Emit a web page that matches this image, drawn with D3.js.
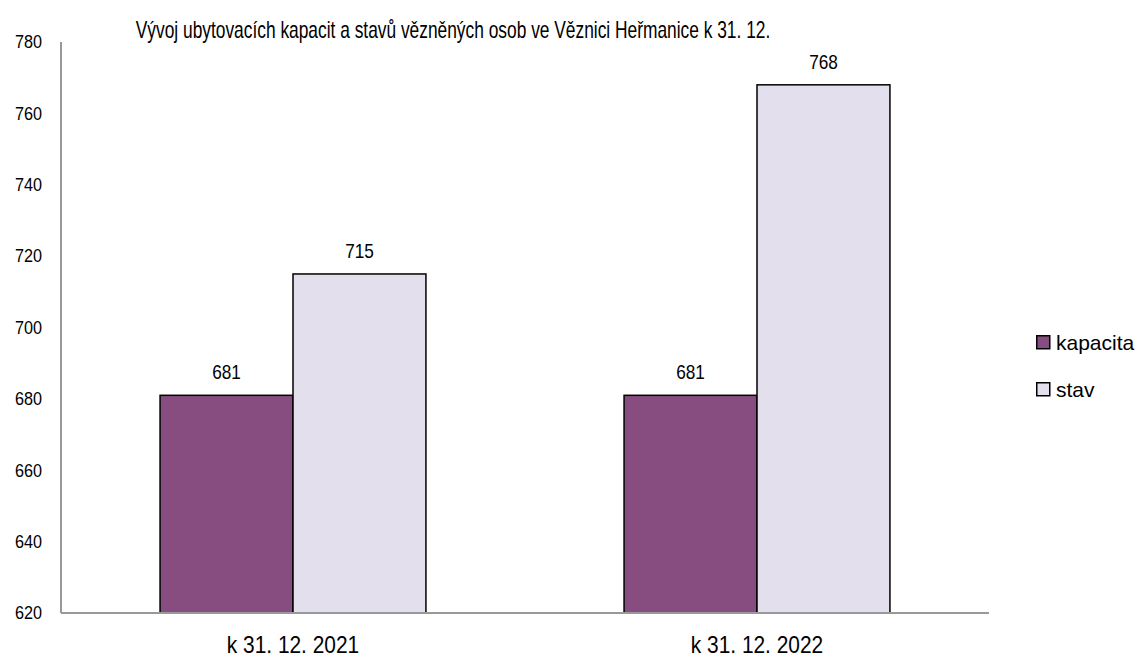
<!DOCTYPE html>
<html>
<head>
<meta charset="utf-8">
<script src="https://cdn.jsdelivr.net/npm/d3@7"></script>
<style>
  body { margin: 0; background: #fff; }
  text { font-family: "Liberation Sans", Arial, sans-serif; fill: #000; }
</style>
</head>
<body>
<div id="vis"></div>
<script>
var categories = ['k 31. 12. 2021', 'k 31. 12. 2022'];
var seriesNames = ['kapacita', 'stav'];
var kapacita = [681, 681];
var stav = [715, 768];
var yTicks = [620, 640, 660, 680, 700, 720, 740, 760, 780];

var width = 1141;
var height = 659;
var margin = { top: 42, right: 152, bottom: 46, left: 61 };

var colors = { kapacita: '#874d80', stav: '#e4dfec' };

// no narrow font here, so texts get squeezed horizontally
function place(fx, fy, sq) {
  return function (d, i) {
    var px = typeof fx === 'function' ? fx(d, i) : fx;
    var py = typeof fy === 'function' ? fy(d, i) : fy;
    return 'translate(' + px + ',' + py + ') scale(' + sq + ',1)';
  };
}

var svg = d3.select('#vis')
  .append('svg')
  .attr('width', width)
  .attr('height', height);

var x0 = d3.scaleBand()
  .domain(categories)
  .range([margin.left, width - margin.right])
  .paddingInner(0.427)
  .paddingOuter(0.2135);

var x1 = d3.scaleBand()
  .domain(seriesNames)
  .range([0, x0.bandwidth()]);

var y = d3.scaleLinear()
  .domain([620, 780])
  .range([height - margin.bottom, margin.top]);

var data = categories.map(function (c, i) {
  return { cat: c, values: [
    { name: 'kapacita', value: kapacita[i] },
    { name: 'stav', value: stav[i] }
  ] };
});

// y tick labels
svg.append('g')
  .selectAll('text')
  .data(yTicks)
  .enter().append('text')
  .attr('transform', place(42, function (d) { return y(d); }, 0.9))
  .attr('dy', '0.35em')
  .attr('text-anchor', 'end')
  .style('font-size', '18px')
  .text(function (d) { return d; });

var groups = svg.append('g')
  .selectAll('g')
  .data(data)
  .enter().append('g')
  .attr('transform', function (d) { return 'translate(' + x0(d.cat) + ',0)'; });

groups.selectAll('rect')
  .data(function (d) { return d.values; })
  .enter().append('rect')
  .attr('x', function (d) { return x1(d.name); })
  .attr('y', function (d) { return y(d.value); })
  .attr('width', x1.bandwidth())
  .attr('height', function (d) { return y(620) - y(d.value); })
  .attr('fill', function (d) { return colors[d.name]; })
  .attr('stroke', '#000')
  .attr('stroke-width', 1.5);

groups.selectAll('.lbl')
  .data(function (d) { return d.values; })
  .enter().append('text')
  .attr('class', 'lbl')
  .attr('transform', place(
    function (d) { return x1(d.name) + x1.bandwidth() / 2; },
    function (d) { return y(d.value) - 16; }, 0.86))
  .attr('text-anchor', 'middle')
  .style('font-size', '20px')
  .text(function (d) { return d.value; });

// axes lines
svg.append('line')
  .attr('x1', margin.left).attr('x2', margin.left)
  .attr('y1', y(780)).attr('y2', y(620))
  .attr('stroke', '#999').attr('stroke-width', 2);
svg.append('line')
  .attr('x1', margin.left).attr('x2', width - margin.right)
  .attr('y1', y(620)).attr('y2', y(620))
  .attr('stroke', '#999').attr('stroke-width', 2);

// x labels
svg.append('g')
  .selectAll('text')
  .data(categories)
  .enter().append('text')
  .attr('transform', place(function (d) { return x0(d) + x0.bandwidth() / 2; }, 653, 0.87))
  .attr('text-anchor', 'middle')
  .style('font-size', '24px')
  .text(function (d) { return d; });

// title
svg.append('text')
  .attr('transform', place(453, 38, 0.755))
  .attr('text-anchor', 'middle')
  .style('font-size', '23px')
  .text('Vývoj ubytovacích kapacit a stavů vězněných osob ve Věznici Heřmanice k 31. 12.');

// legend
var legend = svg.append('g')
  .selectAll('g')
  .data(seriesNames)
  .enter().append('g')
  .attr('transform', function (d, i) { return 'translate(1036,' + (335 + i * 47) + ')'; });

legend.append('rect')
  .attr('x', 0.75).attr('y', 0.75)
  .attr('width', 13).attr('height', 13)
  .attr('fill', function (d) { return colors[d]; })
  .attr('stroke', '#000').attr('stroke-width', 1.5);

legend.append('text')
  .attr('transform', place(20, 15, 1))
  .style('font-size', '21px')
  .text(function (d) { return d; });
</script>
</body>
</html>
